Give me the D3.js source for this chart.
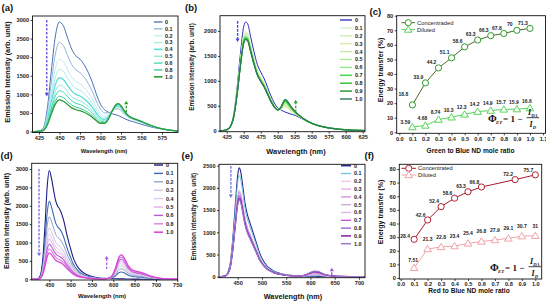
<!DOCTYPE html>
<html><head><meta charset="utf-8">
<script src="https://cdn.jsdelivr.net/npm/d3@7"></script>
<style>body{margin:0;background:#fff}svg{display:block}</style>
</head><body>
<svg id="c" width="546" height="302"></svg>
<script>
// ---------------- DATA ----------------
// Panel (a): green/blue ND, concentrated
const wlA = [418,425,430,435,440,445,450,452,455,460,465,470,475,480,485,490,495,500,505,510,515,520,522,525,530,535,540,545,550,555,560,570,580,595];
const donorA = [0,0.005,0.03,0.2,0.55,0.87,1.0,0.99,0.96,0.85,0.75,0.69,0.66,0.61,0.54,0.45,0.34,0.25,0.2,0.175,0.16,0.15,0.145,0.135,0.115,0.1,0.09,0.078,0.066,0.056,0.045,0.03,0.018,0.004];
const acceptA = [0,0,0,0,0,0,0,0,0,0,0,0,0,0,0,0,0,0.01,0.08,0.32,0.72,0.98,1.0,0.92,0.68,0.52,0.44,0.39,0.34,0.28,0.22,0.12,0.06,0.015];
const ratiosA = ["0","0.1","0.2","0.3","0.4","0.5","0.6","0.8","1.0"];
const donorPeakA = [2950,2400,1950,1680,1450,1250,1100,950,850];
const acceptAmpA = [0,260,360,430,480,520,565,600,630];

// Panel (b): green/blue ND, diluted
const wlB = [415,420,425,430,435,440,445,450,453,456,460,465,470,475,480,485,490,495,500,505,508,511,514,518,522,526,530,535,540,550,560,575,600,628];
const donorB = [0,0.002,0.01,0.04,0.14,0.38,0.7,0.96,1.0,0.98,0.87,0.73,0.61,0.54,0.48,0.4,0.32,0.255,0.21,0.19,0.18,0.172,0.165,0.156,0.148,0.14,0.128,0.112,0.095,0.068,0.048,0.028,0.01,0.002];
const acceptB = [0,0,0,0,0,0,0,0,0,0,0,0,0,0,0,0,0,0.02,0.1,0.42,0.78,1.0,0.95,0.75,0.55,0.4,0.3,0.22,0.16,0.08,0.04,0.015,0,0];
const ratiosB = ["0","0.1","0.2","0.3","0.4","0.5","0.6","0.7","0.8","0.9","1.0"];
const donorPeakB = [2180,1990,1960,1940,1920,1900,1880,1870,1860,1840,1830];
const acceptAmpB = [0,130,150,180,200,220,240,260,280,300,310];

// Panel (d): red/blue ND, concentrated
const wlD = [408,420,425,430,435,440,445,450,455,460,465,470,475,480,485,490,495,500,505,510,520,530,540,550,560,575,585,595,605,612,618,622,628,635,645,655,665,675,690,705,725,751];
const donorD = [0,0.002,0.01,0.05,0.2,0.5,0.85,1.0,0.93,0.82,0.72,0.67,0.64,0.59,0.52,0.43,0.35,0.28,0.21,0.16,0.095,0.06,0.04,0.026,0.017,0.01,0.008,0.006,0.005,0.004,0.004,0.004,0.003,0.003,0.002,0.002,0.001,0.001,0,0,0,0];
const acceptD = [0,0,0,0,0,0,0,0,0,0,0,0,0,0,0,0,0,0,0,0,0,0,0,0,0,0,0.02,0.1,0.45,0.85,1.0,0.97,0.8,0.55,0.38,0.32,0.28,0.22,0.12,0.06,0.02,0];
const ratiosD = ["0","0.1","0.2","0.3","0.4","0.5","0.6","0.8","1.0"];
const donorPeakD = [2960,2120,1700,1400,1230,1100,960,830,720];
const acceptAmpD = [0,190,280,360,420,480,540,600,660];

// Panel (e): red/blue ND, diluted
const wlE = [411,420,425,430,435,440,445,450,453,456,460,465,470,475,480,485,490,495,500,510,520,530,540,550,565,580,590,600,608,615,622,630,640,650,665,680,712];
const donorE = [0,0.003,0.01,0.04,0.13,0.35,0.65,0.93,1.0,0.97,0.85,0.68,0.57,0.5,0.43,0.36,0.29,0.22,0.17,0.1,0.065,0.04,0.027,0.018,0.011,0.007,0.005,0.004,0.004,0.003,0.003,0.002,0.002,0.001,0.001,0,0];
const acceptE = [0,0,0,0,0,0,0,0,0,0,0,0,0,0,0,0,0,0,0,0,0,0,0,0,0,0.05,0.3,0.75,1.0,0.95,0.7,0.4,0.2,0.1,0.04,0.015,0];
const ratiosE = ["0","0.1","0.2","0.3","0.4","0.5","0.6","0.7","0.8","0.9","1.0"];
const donorPeakE = [2450,2280,1950,1930,1900,1880,1860,1830,1800,1760,1730];
const acceptAmpE = [0,20,40,50,60,70,80,90,100,110,120];

// Panel (c): energy transfer, green to blue
const ratioC = [0.1,0.2,0.3,0.4,0.5,0.6,0.7,0.8,0.9,1.0];
const concC = [18.8,33.9,44.2,51.1,58.6,63.3,66.3,67.8,70,71.3];
const concCLabels = ["18.8","33.9","44.2","51.1","58.6","63.3","66.3","67.8","70","71.3"];
const dilC = [3.59,4.68,8.74,10.3,12.3,14.2,14.9,15.7,15.9,16.6];
const dilCLabels = ["3.59","4.68","8.74","10.3","12.3","14.2","14.9","15.7","15.9","16.6"];

// Panel (f): energy transfer, red to blue
const ratioFConc = [0.1,0.2,0.3,0.4,0.5,0.6,0.85,1.0];
const concF = [28.4,42.6,52.4,58.6,63.3,66.8,72.2,75.7];
const concFLabels = ["28.4","42.6","52.4","58.6","63.3","66.8","72.2","75.7"];
const ratioFDil = [0.1,0.2,0.3,0.4,0.5,0.6,0.7,0.8,0.9,1.0];
const dilF = [7.51,21.3,22.8,23.4,25.4,26.8,27.9,29.1,30.7,31];
const dilFLabels = ["7.51","21.3","22.8","23.4","25.4","26.8","27.9","29.1","30.7","31"];

// axis ticks
const ticksXA = [425,450,475,500,525,550,575];
const ticksYA = [0,500,1000,1500,2000,2500,3000];
const ticksXB = [425,450,475,500,525,550,575,600,625];
const ticksYB = [0,500,1000,1500,2000];
const ticksXD = [450,500,550,600,650,700,750];
const ticksYD = [0,500,1000,1500,2000,2500,3000];
const ticksXE = [450,500,550,600,650,700];
const ticksYE = [0,500,1000,1500,2000,2500];
const ticksXC = [0,0.1,0.2,0.3,0.4,0.5,0.6,0.7,0.8,0.9,1.0,1.1];
const ticksXF = [0,0.1,0.2,0.3,0.4,0.5,0.6,0.7,0.8,0.9,1.0];
const ticksYEnergy = [0,10,20,30,40,50,60,70,80];

// ---------------- DRAWING ----------------
const svg = d3.select("#c");
svg.append("rect").attr("width",546).attr("height",302).attr("fill","#fff");
const SANS = "'Liberation Sans', Arial, Helvetica, sans-serif";
const SERIF = "'Liberation Serif', 'DejaVu Serif', serif";

function axes(g, x, y, o, fmt){
  const xa = d3.axisBottom(x).tickValues(o.xt).tickSize(2).tickSizeOuter(0).tickPadding(1.5).tickFormat(fmt);
  const ya = d3.axisLeft(y).tickValues(o.yt).tickSize(2).tickSizeOuter(0).tickPadding(1.5).tickFormat(d3.format("d"));
  const gx = g.append("g").attr("transform",`translate(0,${o.b})`).call(xa);
  const gy = g.append("g").attr("transform",`translate(${o.l},0)`).call(ya);
  [gx,gy].forEach(a=>{
    a.select(".domain").remove();
    a.selectAll("line").attr("stroke","#111").attr("stroke-width",0.8);
    a.selectAll("text").attr("font-family",SANS).attr("font-weight","bold").attr("font-size",5.6).attr("fill","#222");
  });
  g.append("rect").attr("x",o.l).attr("y",o.t).attr("width",o.r-o.l).attr("height",o.b-o.t)
    .attr("fill","none").attr("stroke","#111").attr("stroke-width",0.9);
  g.append("text").attr("transform",`translate(${o.ylx},${o.yly}) rotate(-90)`).attr("text-anchor","middle")
    .attr("font-family",SANS).attr("font-weight","bold").attr("font-size",o.ylfs).attr("fill","#111").text(o.ylabel);
  g.append("text").attr("x",o.xlx).attr("y",o.xly).attr("text-anchor","middle")
    .attr("font-family",SANS).attr("font-weight","bold").attr("font-size",o.xlfs).attr("fill","#111").text(o.xlabel);
  g.append("text").attr("x",o.plx).attr("y",o.ply)
    .attr("font-family",SANS).attr("font-weight","bold").attr("font-size",9.5).attr("fill","#111").text(o.panel);
}

function arrow(g, x, y, a){
  const x0 = x(a.wl), y0 = y(a.from), y1 = y(a.to);
  const dir = y1 > y0 ? 1 : -1;
  const head = 3.5;
  g.append("line").attr("x1",x0).attr("x2",x0).attr("y1",y0).attr("y2",y1 - dir*head)
    .attr("stroke",a.color).attr("stroke-width",1.3).attr("stroke-dasharray","2.6,1.4");
  g.append("path").attr("d",`M${x0-2},${y1-dir*head}L${x0+2},${y1-dir*head}L${x0},${y1}Z`).attr("fill",a.color);
}

function spectrum(o){
  const g = svg.append("g");
  const x = d3.scaleLinear().domain(o.xd).range([o.l,o.r]);
  const y = d3.scaleLinear().domain(o.yd).range([o.b,o.t]);
  const cid = "clip"+o.id;
  svg.append("clipPath").attr("id",cid).append("rect").attr("x",o.l).attr("y",o.t).attr("width",o.r-o.l).attr("height",o.b-o.t);
  const curves = o.dPeak.map((dp,k)=> o.wl.map((w,i)=> ({w, v: dp*o.donor[i] + o.aAmp[k]*o.accept[i]})));
  const line = d3.line().x(d=>x(d.w)).y(d=>y(d.v)).curve(d3.curveMonotoneX);
  const cg = g.append("g").attr("clip-path",`url(#${cid})`);
  d3.range(curves.length).forEach(k=>{
    cg.append("path").attr("d",line(curves[k])).attr("fill","none")
      .attr("stroke",o.colors[k]).attr("stroke-width",o.widths[k]).attr("stroke-linejoin","round");
  });
  axes(g,x,y,o,d3.format("d"));
  const L = o.legend;
  o.labels.forEach((lab,k)=>{
    const yy = L.y0 + k*L.dy;
    g.append("line").attr("x1",L.x0).attr("x2",L.x1).attr("y1",yy).attr("y2",yy)
      .attr("stroke",o.colors[k]).attr("stroke-width",o.widths[k]+0.3);
    g.append("text").attr("x",L.tx).attr("y",yy+1.9).attr("font-family",SANS).attr("font-weight","bold")
      .attr("font-size",5.4).attr("fill","#222").text(lab);
  });
  o.arrows.forEach(a=>arrow(g,x,y,a));
}

function marker(g, type, cx, cy, color){
  if(type==="circle"){
    g.append("circle").attr("cx",cx).attr("cy",cy).attr("r",3.1).attr("fill","#fff").attr("stroke",color).attr("stroke-width",1);
  } else {
    const s = 3.6;
    g.append("path").attr("d",`M${cx},${cy-s}L${cx+s*1.05},${cy+s*0.75}L${cx-s*1.05},${cy+s*0.75}Z`)
      .attr("fill","#fff").attr("stroke",color).attr("stroke-width",1);
  }
}

function txt(x, y, s, size, italic){
  return svg.append("text").attr("x",x).attr("y",y).attr("font-family",SERIF).attr("font-weight","bold")
    .attr("font-style",italic?"italic":"normal").attr("font-size",size).attr("fill","#111").text(s);
}
function formula(xL, yB){
  txt(xL, yB, "Φ", 10.5, false);
  txt(xL+8, yB+2, "ET", 4.8, true);
  txt(xL+15, yB, "= 1 −", 9, false);
  txt(xL+40, yB-7, "I", 8, true);
  txt(xL+43.2, yB-5.5, "DA", 4.6, true);
  svg.append("line").attr("x1",xL+38.5).attr("x2",xL+51).attr("y1",yB-4.3).attr("y2",yB-4.3).attr("stroke","#111").attr("stroke-width",0.8);
  txt(xL+41.5, yB+5, "I", 8, true);
  txt(xL+44.7, yB+6.5, "D", 4.6, true);
}

function energy(o){
  const g = svg.append("g");
  const x = d3.scaleLinear().domain(o.xd).range([o.l,o.r]);
  const y = d3.scaleLinear().domain(o.yd).range([o.b,o.t]);
  axes(g,x,y,o,d3.format(".1f"));
  const line = d3.line().x(d=>x(d[0])).y(d=>y(d[1]));
  o.series.forEach(s=>{
    const pts = s.x.map((v,i)=>[v,s.y[i]]);
    g.append("path").attr("d",line(pts)).attr("fill","none").attr("stroke",s.line).attr("stroke-width",1);
  });
  o.series.forEach(s=>{
    s.x.forEach((v,i)=>{
      marker(g,s.marker,x(v),y(s.y[i]),s.color);
      const off = (i===0 && s.first) ? s.first : s.off;
      g.append("text").attr("x",x(v)+off[0]).attr("y",y(s.y[i])+off[1]).attr("text-anchor","middle")
        .attr("font-family",SANS).attr("font-weight","bold").attr("font-size",5).attr("fill","#222").text(s.labels[i]);
    });
  });
  o.series.forEach((s,k)=>{
    const yy = o.legend.y0 + k*o.legend.dy;
    g.append("line").attr("x1",o.legend.x0).attr("x2",o.legend.x1).attr("y1",yy).attr("y2",yy).attr("stroke",s.line).attr("stroke-width",1);
    marker(g,s.marker,(o.legend.x0+o.legend.x1)/2,yy,s.color);
    g.append("text").attr("x",o.legend.tx).attr("y",yy+2).attr("font-family",SANS).attr("font-size",5.8).attr("fill","#222").text(s.name);
  });
  formula(o.fx,o.fy);
}

// ----- panel (a)
spectrum({id:"a", l:32.5, r:178, t:16, b:132.5, xd:[417.1,594.5], yd:[-25,3107],
  xt:ticksXA, yt:ticksYA, wl:wlA, donor:donorA, accept:acceptA, dPeak:donorPeakA, aAmp:acceptAmpA,
  labels:ratiosA,
  colors:["#4a6fb5","#8db4d9","#c6e8f0","#a4ecec","#5cdcd4","#8fe6d6","#40d6b0","#36c996","#2e9a3a"],
  widths:[1,1,1,1,1.3,1,1,1,1.3],
  legend:{x0:154,x1:162.5,tx:165,y0:22,dy:6.85},
  arrows:[{wl:434.5,from:3000,to:944,color:"#5a52e0"},{wl:531.4,from:520,to:830,color:"#2a9a2a"}],
  ylabel:"Emission Intensity (arb. unit)", ylx:10, yly:72, ylfs:7.4,
  xlabel:"Wavelength (nm)", xlx:104, xly:153, xlfs:5.8, panel:"(a)", plx:1.5, ply:11});

// ----- panel (b)
spectrum({id:"b", l:220, r:365, t:15.7, b:131.7, xd:[415.1,628.4], yd:[-20,2307],
  xt:ticksXB, yt:ticksYB, wl:wlB, donor:donorB, accept:acceptB, dPeak:donorPeakB, aAmp:acceptAmpB,
  labels:ratiosB,
  colors:["#2b2bb8","#d4f0c4","#c6eeb0","#e0e6a4","#c4eaa0","#a8ea94","#8ce888","#4fd64f","#3cc43c","#2e9a3a","#2a7a56"],
  widths:[1,1,1,1,1,1,1,1.3,1.2,1.2,1.1],
  legend:{x0:340,x1:352,tx:355,y0:20,dy:7.9},
  arrows:[{wl:441,from:2200,to:1780,color:"#4040d4"},{wl:526.5,from:370,to:620,color:"#2e9e2e"}],
  ylabel:"Emission intensity (arb. unit)", ylx:194, yly:67, ylfs:6.4,
  xlabel:"Wavelength (nm)", xlx:296, xly:154, xlfs:7.4, panel:"(b)", plx:185, ply:11});

// ----- panel (d)
spectrum({id:"d", l:31.7, r:177.7, t:163.3, b:280, xd:[408.7,751], yd:[-19,3155],
  xt:ticksXD, yt:ticksYD, wl:wlD, donor:donorD, accept:acceptD, dPeak:donorPeakD, aAmp:acceptAmpD,
  labels:ratiosD,
  colors:["#1c1c84","#3d6ab0","#8c9cc8","#c6c6e2","#e2c6ea","#e2a8e4","#b45cd0","#e27ce2","#d848d8"],
  widths:[1.1,1.1,1,1,1,1,1.1,1.1,1.3],
  legend:{x0:154,x1:163,tx:166,y0:165,dy:8.4},
  arrows:[{wl:425.9,from:3000,to:630,color:"#7a62e6"},{wl:584.5,from:280,to:640,color:"#a662e0"}],
  ylabel:"Emission Intensity (arb. unit)", ylx:8.5, yly:221, ylfs:7,
  xlabel:"Wavelength (nm)", xlx:102, xly:298, xlfs:6, panel:"(d)", plx:0.5, ply:159});

// ----- panel (e)
spectrum({id:"e", l:219, r:365, t:164.3, b:277.7, xd:[411.5,712.4], yd:[-22.5,2531],
  xt:ticksXE, yt:ticksYE, wl:wlE, donor:donorE, accept:acceptE, dPeak:donorPeakE, aAmp:acceptAmpE,
  labels:ratiosE,
  colors:["#23238e","#6cc6d6","#f2c4e2","#e6a8e6","#d48ae2","#c8a6d8","#dcb8e8","#c448d8","#8a5cc8","#86189e","#9878c8"],
  widths:[1.1,1,1,1,1,1,1,1,1,1.2,1.2],
  legend:{x0:341,x1:351,tx:354,y0:165.7,dy:7.8},
  arrows:[{wl:436,from:2490,to:1770,color:"#7070e4"},{wl:644,from:40,to:200,color:"#a844d4"}],
  ylabel:"Emission intensity (arb. unit)", ylx:195.5, yly:216.7, ylfs:6.4,
  xlabel:"Wavelength (nm)", xlx:293, xly:298.5, xlfs:7.3, panel:"(e)", plx:181.5, ply:159});

// ----- panel (c)
energy({l:396.7, r:545.5, t:15.7, b:133.3, xd:[-0.02,1.119], yd:[-0.69,80],
  xt:ticksXC, yt:ticksYEnergy,
  ylabel:"Energy transfer (%)", ylx:383, yly:70, ylfs:7,
  xlabel:"Green to Blue ND mole ratio", xlx:470.5, xly:153, xlfs:6.6, panel:"(c)", plx:369.5, ply:14.5,
  series:[
    {name:"Concentraded", x:ratioC, y:concC, labels:concCLabels, marker:"circle", color:"#2f9a2f", line:"#4e6a24", off:[-7,-3.8], first:[-9,-9]},
    {name:"Diluted", x:ratioC, y:dilC, labels:dilCLabels, marker:"tri", color:"#58d458", line:"#58d458", off:[-3,-5.5], first:[-7,-3]}
  ],
  legend:{x0:401.5,x1:415,tx:417,y0:22.7,dy:6.8},
  fx:488, fy:122});

// ----- panel (f)
energy({l:399.3, r:541.7, t:164.3, b:279, xd:[-0.0104,1.0475], yd:[-0.73,83.45],
  xt:ticksXF, yt:ticksYEnergy,
  ylabel:"Energy transfer (%)", ylx:383, yly:212, ylfs:7,
  xlabel:"Red to Blue ND mole ratio", xlx:469, xly:293, xlfs:6.6, panel:"(f)", plx:364.5, ply:159,
  series:[
    {name:"Concentrated", x:ratioFConc, y:concF, labels:concFLabels, marker:"circle", color:"#b3202f", line:"#a11b2b", off:[-7,-3.3], first:[-9,-1.5]},
    {name:"Diluted", x:ratioFDil, y:dilF, labels:dilFLabels, marker:"tri", color:"#f2a2a8", line:"#f2a2a8", off:[0,-8], first:[-1,-5.5]}
  ],
  legend:{x0:401.5,x1:416,tx:418,y0:168.3,dy:6.7},
  fx:490, fy:271});
</script>
</body></html>
